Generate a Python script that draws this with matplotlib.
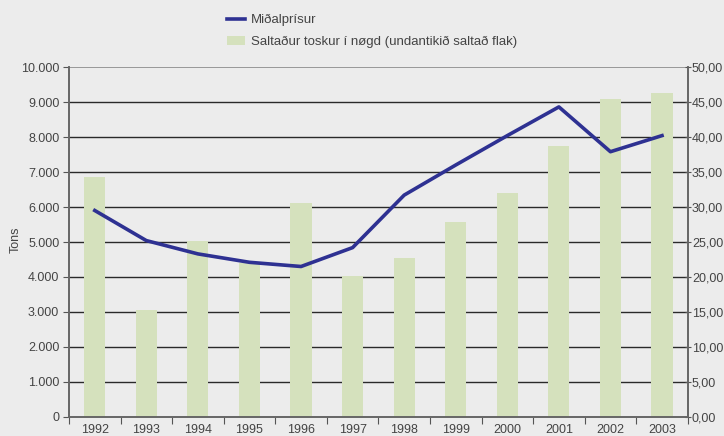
import numpy as np
import matplotlib.pyplot as plt
from matplotlib.ticker import FuncFormatter

# data
years = ['1992', '1993', '1994', '1995', '1996', '1997',
         '1998', '1999', '2000', '2001', '2002', '2003']
tons = [6870, 3070, 5040, 4400, 6120, 4040, 4550, 5580, 6410, 7730, 9080, 9260]
avg_price = [29.5, 25.2, 23.3, 22.1, 21.5, 24.2, 31.7, 36.0, 40.2, 44.3, 37.9, 40.2]

bg = '#ececec'
bar_col = '#d5e1bd'
line_col = '#2e3192'
txt = '#444444'

plt.rcParams['font.family'] = ['Liberation Sans', 'DejaVu Sans']

fig = plt.figure(figsize=(7.24, 4.36), dpi=100, facecolor=bg)
ax = fig.add_axes([0.0953, 0.0436, 0.8547, 0.8027], facecolor=bg)
ax2 = ax.twinx()

x = np.arange(len(years))
ax.bar(x, tons, width=0.41, color=bar_col, zorder=2, label='Saltaður toskur í nøgd (undantikið saltað flak)')
ax2.plot(x, avg_price, color=line_col, lw=2.6, zorder=3, label='Miðalprísur')

ax.set_xlim(-0.5, 11.5)
ax.set_ylim(0, 10000)
ax2.set_ylim(0, 50)
ax.set_yticks(np.arange(0, 10001, 1000))
ax2.set_yticks(np.arange(0, 51, 5))
ax.yaxis.set_major_formatter(FuncFormatter(lambda v, p: f'{int(v):,}'.replace(',', '.')))
ax2.yaxis.set_major_formatter(FuncFormatter(lambda v, p: f'{v:.2f}'.replace('.', ',')))

for v in range(1000, 10000, 1000):
    ax.axhline(v, color='#2a2a2a', lw=1.0, zorder=1)
ax.axhline(10000, color='#8a8a8a', lw=1.2, zorder=1)

# year labels centred, ticks between categories
ax.set_xticks(np.arange(-0.5, 12, 1))
ax.set_xticklabels([])
ax.set_xticks(x, minor=True)
ax.set_xticklabels(years, minor=True)
ax.tick_params(axis='x', which='major', length=5, color='#555555', direction='out')
ax.tick_params(axis='x', which='minor', length=0, pad=5, labelsize=9, labelcolor=txt)
ax.tick_params(axis='y', length=4, color='#555555', labelsize=9, labelcolor=txt, pad=3)
ax2.tick_params(axis='y', length=4, color='#555555', labelsize=9, labelcolor=txt,
                pad=1, direction='inout')

for a in (ax, ax2):
    a.spines['top'].set_visible(False)
    for s in ('left', 'right', 'bottom'):
        a.spines[s].set_color('#666666')
        a.spines[s].set_linewidth(1.2)

fig.text(0.021, 0.449, 'Tons', rotation=90, fontsize=9, color=txt, ha='center', va='center')

h1, l1 = ax2.get_legend_handles_labels()
h2, l2 = ax.get_legend_handles_labels()
fig.legend(h1 + h2, l1 + l2, loc='upper left', bbox_to_anchor=(0.297, 0.995),
           frameon=False, fontsize=9.5, labelcolor=txt, handlelength=1.4,
           handleheight=0.7, handletextpad=0.45, labelspacing=0.75)

fig.savefig('out.png', dpi=100, facecolor=bg)
